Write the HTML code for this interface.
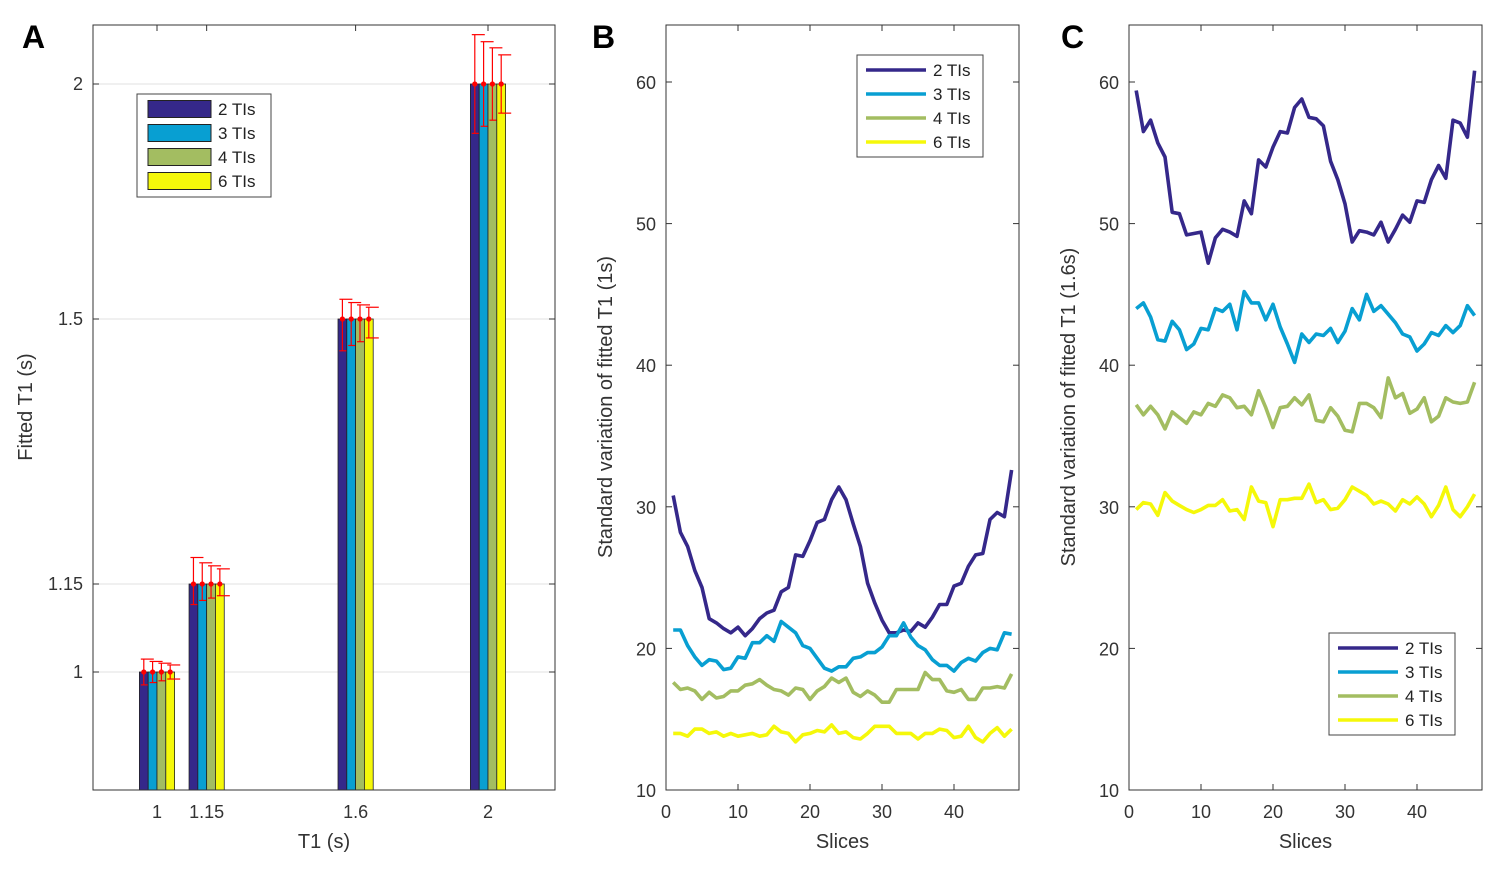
<!DOCTYPE html>
<html><head><meta charset="utf-8"><style>
body{margin:0;background:#fff}
svg{display:block;font-family:"Liberation Sans",Arial,sans-serif}
</style></head><body>
<svg id="fig" width="1507" height="872" viewBox="0 0 1507 872"></svg>
<script>
const groups=[1,1.15,1.6,2];
const groupLabels=["1","1.15","1.6","2"];
const seriesNames=["2 TIs","3 TIs","4 TIs","6 TIs"];
const barMeans=[[1,1,1,1],[1.15,1.15,1.15,1.15],[1.5,1.5,1.5,1.5],[2,2,2,2]];
const barErrs=[[0.022,0.018,0.015,0.012],[0.035,0.028,0.024,0.02],[0.042,0.035,0.03,0.025],[0.105,0.09,0.077,0.062]];
const aTicks=[1,1.15,1.5,2];
const aTickLabels=["1","1.15","1.5","2"];
const bTicks=[10,20,30,40,50,60];
const xTicks=[0,10,20,30,40];
const b2=[30.8,28.2,27.2,25.5,24.3,22.1,21.8,21.4,21.1,21.5,20.9,21.4,22.1,22.5,22.7,24.0,24.3,26.6,26.5,27.6,28.9,29.1,30.5,31.4,30.5,28.8,27.2,24.6,23.2,22.0,21.1,21.1,21.3,21.2,21.8,21.5,22.2,23.1,23.1,24.4,24.6,25.8,26.6,26.7,29.1,29.6,29.3,32.6];
const b3=[21.3,21.3,20.2,19.4,18.8,19.2,19.1,18.5,18.6,19.4,19.3,20.4,20.4,20.9,20.5,21.9,21.5,21.1,20.2,20.0,19.3,18.6,18.4,18.7,18.7,19.3,19.4,19.7,19.7,20.1,20.9,20.9,21.8,20.8,20.2,19.9,19.2,18.8,18.8,18.4,19.0,19.3,19.1,19.7,20.0,19.9,21.1,21.0];
const b4=[17.6,17.1,17.2,17.0,16.4,16.9,16.5,16.6,17.0,17.0,17.4,17.5,17.8,17.4,17.1,17.0,16.7,17.2,17.1,16.4,17.0,17.3,17.9,17.6,17.9,16.9,16.6,17.0,16.7,16.2,16.2,17.1,17.1,17.1,17.1,18.3,17.8,17.8,17.0,16.9,17.1,16.4,16.4,17.2,17.2,17.3,17.2,18.2];
const b6=[14.0,14.0,13.8,14.3,14.3,14.0,14.1,13.8,14.0,13.8,13.9,14.0,13.8,13.9,14.5,14.1,14.0,13.4,13.9,14.0,14.2,14.1,14.6,14.0,14.1,13.7,13.6,14.0,14.5,14.5,14.5,14.0,14.0,14.0,13.6,14.0,14.0,14.3,14.2,13.7,13.8,14.5,13.7,13.4,14.0,14.4,13.8,14.3];
const c2=[59.4,56.5,57.3,55.7,54.7,50.8,50.7,49.2,49.3,49.4,47.2,49.0,49.6,49.4,49.1,51.6,50.7,54.5,54.0,55.4,56.5,56.4,58.2,58.8,57.5,57.4,56.9,54.4,53.1,51.4,48.7,49.5,49.4,49.2,50.1,48.7,49.6,50.6,50.1,51.6,51.5,53.1,54.1,53.2,57.3,57.1,56.1,60.8];
const c3=[44.0,44.4,43.4,41.8,41.7,43.1,42.5,41.1,41.5,42.6,42.5,44.0,43.8,44.3,42.5,45.2,44.4,44.4,43.2,44.3,42.7,41.5,40.2,42.2,41.6,42.2,42.1,42.6,41.6,42.4,44.0,43.2,45.0,43.8,44.2,43.6,43.0,42.2,42.0,41.0,41.5,42.3,42.1,42.8,42.3,42.8,44.2,43.5];
const c4=[37.2,36.5,37.1,36.5,35.5,36.7,36.3,35.9,36.7,36.5,37.3,37.1,37.9,37.7,37.0,37.1,36.5,38.2,37.0,35.6,37.0,37.1,37.7,37.2,37.9,36.1,36.0,37.0,36.4,35.4,35.3,37.3,37.3,37.0,36.3,39.1,37.7,38.0,36.6,36.9,37.7,36.0,36.4,37.7,37.4,37.3,37.4,38.8];
const c6=[29.8,30.3,30.2,29.4,31.0,30.4,30.1,29.8,29.6,29.8,30.1,30.1,30.5,29.7,29.8,29.1,31.4,30.4,30.3,28.6,30.5,30.5,30.6,30.6,31.6,30.3,30.5,29.8,29.9,30.5,31.4,31.1,30.8,30.2,30.4,30.2,29.7,30.5,30.2,30.7,30.2,29.3,30.1,31.4,29.8,29.3,30.0,30.9];

const colors=["#35288a","#089fd2","#a3bd61","#f5f80a"];
const NS="http://www.w3.org/2000/svg";
const svg=document.getElementById('fig');
function el(tag,attrs,parent){const e=document.createElementNS(NS,tag);for(const k in attrs)e.setAttribute(k,attrs[k]);(parent||svg).appendChild(e);return e;}
function txt(s,attrs,parent){const e=el('text',attrs,parent);e.textContent=s;return e;}

// ---------- Panel A ----------
const A={l:93,r:555,t:25,b:790};
const ax=v=>157+(v-1)*331;
const aPix=[672,584,319,84];
function ay(v){
  if(v<=aTicks[0]) return aPix[0]-(v-aTicks[0])*(aPix[0]-aPix[1])/(aTicks[1]-aTicks[0]);
  for(let i=0;i<aTicks.length-1;i++){ if(v<=aTicks[i+1]) return aPix[i]+(v-aTicks[i])*(aPix[i+1]-aPix[i])/(aTicks[i+1]-aTicks[i]); }
  const n=aTicks.length-1; return aPix[n]+(v-aTicks[n])*(aPix[n]-aPix[n-1])/(aTicks[n]-aTicks[n-1]);
}
const gA=el('g',{});


aTicks.forEach((t,i)=>{
  const y=ay(t);
  const gl=el('line',{x1:A.l,x2:A.r,y1:y,y2:y,stroke:'#e2e2e2','stroke-width':1},gA);
  
  
  el('line',{x1:A.l,x2:A.l+6,y1:y,y2:y,stroke:'#333'},gA);
  el('line',{x1:A.r,x2:A.r-6,y1:y,y2:y,stroke:'#333'},gA);
  const tl=txt(aTickLabels[i],{x:A.l-10,y:y+6,'text-anchor':'end','font-size':18,fill:'#333'},gA);
  
  
});
const bw=8.8;
groups.forEach((g,gi)=>{
  const cx=ax(g);
  el('line',{x1:cx,x2:cx,y1:A.b,y2:A.b-6,stroke:'#333'},gA);
  el('line',{x1:cx,x2:cx,y1:A.t,y2:A.t+6,stroke:'#333'},gA);
  const tl=txt(groupLabels[gi],{x:cx,y:A.b+28,'text-anchor':'middle','font-size':18,fill:'#333'},gA);
  
  
  barMeans[gi].forEach((m,si)=>{
    const x0=cx-2*bw+si*bw;
    const r=el('rect',{x:x0,y:ay(m),width:bw,height:A.b-ay(m),fill:colors[si],stroke:'#222','stroke-width':0.8},gA);
    
    
    const bc=x0+bw/2, e=barErrs[gi][si];
    const eg=el('g',{stroke:'#f00','stroke-width':1.2},gA);
    
    
    el('line',{x1:bc,x2:bc,y1:ay(m+e),y2:ay(m-e)},eg);
    el('line',{x1:bc-3,x2:bc+10,y1:ay(m+e),y2:ay(m+e)},eg);
    el('line',{x1:bc-3,x2:bc+10,y1:ay(m-e),y2:ay(m-e)},eg);
    el('circle',{cx:bc,cy:ay(m),r:2.6,fill:'#f00',stroke:'none'},gA);
  });
});
el('rect',{x:A.l,y:A.t,width:A.r-A.l,height:A.b-A.t,fill:'none',stroke:'#333','stroke-width':1},gA);
// legend A
const lgA=el('g',{},gA);


el('rect',{x:137,y:94,width:134,height:103,fill:'#fff',stroke:'#444','stroke-width':1},lgA);
seriesNames.forEach((n,i)=>{
  const y=109+i*24;
  const s=el('rect',{x:148,y:y-8.5,width:63,height:17,fill:colors[i],stroke:'#222','stroke-width':1},lgA);
  
  
  const t=txt(n,{x:218,y:y+6,'font-size':17,fill:'#222'},lgA);
  
  
});
let t;
t=txt('Fitted T1 (s)',{x:0,y:0,transform:'translate(32,407) rotate(-90)','text-anchor':'middle','font-size':20,fill:'#333'});


t=txt('T1 (s)',{x:324,y:848,'text-anchor':'middle','font-size':20,fill:'#333'});



// ---------- line panels ----------
function linePanel(P,series,ylab,legendPos,name){
  const g=el('g',{});
  
  
  const sx=v=>P.l+v*7.2;
  const sy=v=>790-(v-10)*14.16;
  bTicks.forEach(tk=>{
    const y=sy(tk);
    el('line',{x1:P.l,x2:P.l+6,y1:y,y2:y,stroke:'#333'},g);
    el('line',{x1:P.r,x2:P.r-6,y1:y,y2:y,stroke:'#333'},g);
    const tl=txt(String(tk),{x:P.l-10,y:y+7,'text-anchor':'end','font-size':18,fill:'#333'},g);
    
    
  });
  xTicks.forEach(tk=>{
    const x=sx(tk);
    el('line',{x1:x,x2:x,y1:790,y2:784,stroke:'#333'},g);
    el('line',{x1:x,x2:x,y1:25,y2:31,stroke:'#333'},g);
    const tl=txt(String(tk),{x:x,y:818,'text-anchor':'middle','font-size':18,fill:'#333'},g);
    
    
  });
  series.forEach((arr,si)=>{
    const pts=arr.map((v,i)=>sx(i+1).toFixed(1)+','+sy(v).toFixed(1)).join(' ');
    const pl=el('polyline',{points:pts,fill:'none',stroke:colors[si],'stroke-width':3.6,'stroke-linejoin':'round'},g);
    
    
  });
  el('rect',{x:P.l,y:25,width:P.r-P.l,height:765,fill:'none',stroke:'#333','stroke-width':1},g);
  const lg=el('g',{},g);
  
  
  el('rect',{x:legendPos.x,y:legendPos.y,width:126,height:102,fill:'#fff',stroke:'#444','stroke-width':1},lg);
  seriesNames.forEach((n,i)=>{
    const y=legendPos.y+15+i*24;
    el('line',{x1:legendPos.x+9,x2:legendPos.x+69,y1:y,y2:y,stroke:colors[i],'stroke-width':3.6},lg);
    const tl=txt(n,{x:legendPos.x+76,y:y+6,'font-size':17,fill:'#222'},lg);
    
    
  });
  const yt=txt(ylab,{x:0,y:0,transform:'translate('+(P.l-54)+',407) rotate(-90)','text-anchor':'middle','font-size':20,fill:'#333'},g);
  
  
  const xt=txt('Slices',{x:(P.l+P.r)/2,y:848,'text-anchor':'middle','font-size':20,fill:'#333'},g);
  
  
}
linePanel({l:666,r:1019},[b2,b3,b4,b6],'Standard variation of fitted T1 (1s)',{x:857,y:55},'panel-b');
linePanel({l:1129,r:1482},[c2,c3,c4,c6],'Standard variation of fitted T1 (1.6s)',{x:1329,y:633},'panel-c');

[['A',22],['B',592],['C',1061]].forEach(([s,x])=>{
  const l=txt(s,{x:x,y:48,'font-size':32,'font-weight':'bold',fill:'#000'});
  
  
});
</script>
</body></html>
